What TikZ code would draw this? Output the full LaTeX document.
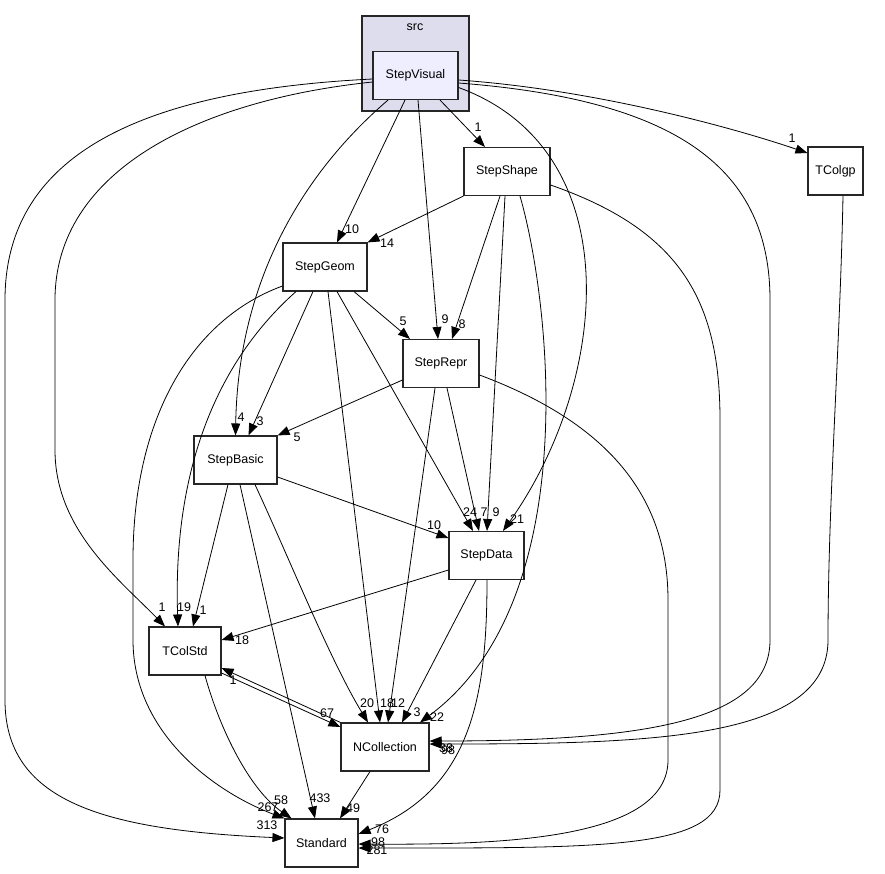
\documentclass[tikz,border=0pt]{standalone}
\usepackage{fontspec}
\setmainfont{Liberation Sans}
\usetikzlibrary{arrows.meta}
\definecolor{clusterfill}{HTML}{DDDDEE}
\definecolor{visualfill}{HTML}{EEEEFF}

\begin{document}
\begin{tikzpicture}[x=1pt,y=-1pt,
    dir/.style={draw=black!85,line width=1.1pt,fill=white,minimum height=48pt,inner sep=0pt,font=\fontsize{12.5}{14}\selectfont},
    dep/.style={-{Triangle[length=12pt,width=9pt]},line width=0.8pt},
    lbl/.style={font=\fontsize{12.5}{14}\selectfont,inner sep=0pt}]
  \useasboundingbox (0,0) rectangle (885,873);
  \node[draw=black!85,line width=1.1pt,fill=clusterfill,minimum width=107pt,minimum height=95pt,inner sep=0pt] (src) at (415.5,63.5) {};
  \node[lbl] (srclabel) at (415,27) {src};
  \node[dir,fill=visualfill,minimum width=85pt] (StepVisual) at (415.5,75.5) {StepVisual};
  \node[dir,minimum width=86pt] (StepShape) at (507,171.5) {StepShape};
  \node[dir,minimum width=55pt] (TColgp) at (835.5,171) {TColgp};
  \node[dir,minimum width=84pt] (StepGeom) at (325,267) {StepGeom};
  \node[dir,minimum width=76pt] (StepRepr) at (441,363.5) {StepRepr};
  \node[dir,minimum width=83pt] (StepBasic) at (235.5,460) {StepBasic};
  \node[dir,minimum width=75pt] (StepData) at (486.5,555.5) {StepData};
  \node[dir,minimum width=72pt] (TColStd) at (185,651) {TColStd};
  \node[dir,minimum width=88pt] (NCollection) at (385,747) {NCollection};
  \node[dir,minimum width=73pt] (Standard) at (321.5,843) {Standard};

  \draw[dep] ([xshift=24.5pt]StepVisual.south) -- ([xshift=-22pt]StepShape.north);
  \draw[dep] ([yshift=-4.5pt]StepVisual.east) .. controls (600,90) and (740,130) .. ([yshift=18pt]TColgp.west);
  \draw[dep] ([xshift=-10.5pt]StepVisual.south) -- ([xshift=12pt]StepGeom.north);
  \draw[dep] ([xshift=2.5pt]StepVisual.south) -- ([xshift=-3pt]StepRepr.north);
  \draw[dep] ([xshift=-27.5pt]StepVisual.south) .. controls (295,180) and (238,290) .. (StepBasic.north);
  \draw[dep] ([yshift=-12pt]StepVisual.east) .. controls (630,150) and (610,380) .. ([xshift=16.5pt]StepData.north);
  \draw[dep] ([yshift=-6.5pt]StepVisual.west) .. controls (200,100) and (55,170) .. (55,300) -- (55,450)
    .. controls (55,530) and (120,580) .. ([xshift=-20pt]TColStd.north);
  \draw[dep] ([yshift=-3.5pt]StepVisual.west) .. controls (150,90) and (5,150) .. (5,300) -- (5,700)
    .. controls (5,800) and (100,830) .. ([yshift=5pt]Standard.west);
  \draw[dep] ([yshift=-7.5pt]StepVisual.east) .. controls (680,100) and (770,170) .. (770,300) -- (770,640)
    .. controls (770,720) and (650,741) .. ([yshift=6pt]NCollection.east);
  \draw[dep] ([xshift=7.5pt]TColgp.south) .. controls (840,350) and (828,500) .. (828,640)
    .. controls (828,740) and (650,744) .. ([yshift=3pt]NCollection.east);

  \draw[dep] (StepShape.south west) -- (StepGeom.north east);
  \draw[dep] ([xshift=-7pt]StepShape.south) -- ([xshift=11pt]StepRepr.north);
  \draw[dep] ([xshift=-2pt]StepShape.south) -- ([xshift=0.5pt]StepData.north);
  \draw[dep] ([xshift=13pt]StepShape.south) .. controls (550,300) and (585,600) .. ([xshift=35pt]NCollection.north);
  \draw[dep] ([yshift=-13.5pt]StepShape.east) .. controls (680,230) and (720,300) .. (720,420) -- (720,790)
    .. controls (720,850) and (600,848) .. ([yshift=-5pt]Standard.east);

  \draw[dep] ([xshift=29pt]StepGeom.south) -- ([xshift=-31pt]StepRepr.north);
  \draw[dep] ([xshift=-12pt]StepGeom.south) -- ([xshift=13pt]StepBasic.north);
  \draw[dep] ([xshift=12pt]StepGeom.south) -- ([xshift=-13.5pt]StepData.north);
  \draw[dep] ([xshift=3pt]StepGeom.south) -- ([xshift=-5pt]NCollection.north);
  \draw[dep] ([xshift=-29pt]StepGeom.south) .. controls (230,350) and (172,450) .. ([xshift=-7pt]TColStd.north);
  \draw[dep] ([yshift=-19pt]StepGeom.west) .. controls (190,320) and (133,420) .. (133,560) -- (133,640)
    .. controls (133,730) and (210,790) .. (Standard.north west);

  \draw[dep] ([yshift=-16.5pt]StepRepr.west) -- (StepBasic.north east);
  \draw[dep] ([xshift=6pt]StepRepr.south) -- ([xshift=-7.5pt]StepData.north);
  \draw[dep] ([xshift=-6pt]StepRepr.south) -- ([xshift=3pt]NCollection.north);
  \draw[dep] ([yshift=-11.5pt]StepRepr.east) .. controls (600,420) and (668,490) .. (668,600) -- (668,760)
    .. controls (668,840) and (500,845) .. ([yshift=-1pt]Standard.east);

  \draw[dep] ([yshift=-17pt]StepBasic.east) -- ([yshift=17.5pt]StepData.west);
  \draw[dep] ([xshift=-7.5pt]StepBasic.south) -- ([xshift=8pt]TColStd.north);
  \draw[dep] ([xshift=19.5pt]StepBasic.south) .. controls (290,560) and (330,660) .. ([xshift=-17pt]NCollection.north);
  \draw[dep] ([xshift=4.5pt]StepBasic.south) -- ([xshift=-6.5pt]Standard.north);

  \draw[dep] ([yshift=-14.5pt]StepData.west) -- ([yshift=11pt]TColStd.east);
  \draw[dep] ([xshift=-10.5pt]StepData.south) -- ([xshift=17pt]NCollection.north);
  \draw[dep] ([xshift=0.5pt]StepData.south) .. controls (487,700) and (470,790) .. ([yshift=9pt]Standard.east);

  \draw[dep] ([yshift=-22pt]TColStd.east) -- ([yshift=20pt]NCollection.west);
  \draw[dep] (NCollection.north west) -- ([yshift=-17pt]TColStd.east);
  \draw[dep] ([xshift=20pt]TColStd.south) .. controls (220,730) and (250,790) .. ([xshift=-30pt]Standard.north);
  \draw[dep] ([xshift=-15pt]NCollection.south) -- ([xshift=18.5pt]Standard.north);

  \foreach \t/\x/\y [count=\i] in {1/478/127, 1/792/138, 10/352/229, 9/445/319, 4/241/417, 21/517/519,
      1/162/607, 313/267/825, 38/446/748, 98/448/750, 14/387/243, 8/462/324, 9/496/512, 22/437/717,
      281/377/850, 5/403/321, 3/260/421, 24/470/512, 18/387/703, 19/184/607, 267/268/807, 5/297/437,
      7/484/512, 12/398/703, 98/378/842, 10/434/525, 1/203/610, 20/367/703, 433/320/798, 18/242/640,
      3/417/712, 76/382/829, 67/327/713, 1/233/680, 58/281/800, 49/353/808} {
    \node[lbl] (lab\i) at (\x,\y) {\t};
  }
\end{tikzpicture}
\end{document}
